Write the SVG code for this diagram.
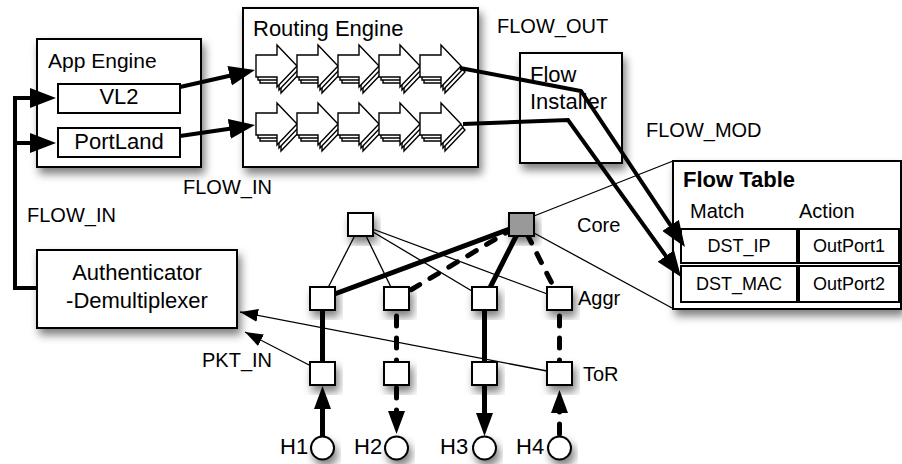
<svg xmlns="http://www.w3.org/2000/svg" xmlns:xlink="http://www.w3.org/1999/xlink" width="902" height="464" viewBox="0 0 902 464">
<style>
text{font-family:"Liberation Sans",Arial,Helvetica,sans-serif;fill:#000}
.box{fill:#fff;stroke:#000;stroke-width:2}
.nd{fill:#fff;stroke:#000;stroke-width:2}
.thin{stroke:#000;stroke-width:1.3;fill:none}
.thick{stroke:#000;stroke-width:5;fill:none}
.dash{stroke-dasharray:10 12;stroke-linecap:round}
.fl{stroke:#000;stroke-width:4;fill:none;stroke-linejoin:miter}
.ic{fill:#fff;stroke:#000;stroke-width:1.4;stroke-linejoin:miter}
.c{text-anchor:middle}
</style>
<defs>
<filter id="sh" x="-30%" y="-30%" width="160%" height="170%">
<feDropShadow dx="3" dy="6" stdDeviation="4" flood-color="#000" flood-opacity="0.5"/>
</filter>
<marker id="big" markerUnits="userSpaceOnUse" markerWidth="26" markerHeight="20" refX="16" refY="10" orient="auto"><path d="M0,0 L26,10 L0,20 Z" fill="#000"/></marker>
<marker id="mid" markerUnits="userSpaceOnUse" markerWidth="23" markerHeight="17" refX="13" refY="8.5" orient="auto"><path d="M0,0 L23,8.5 L0,17 Z" fill="#000"/></marker>
<marker id="sm" markerUnits="userSpaceOnUse" markerWidth="18" markerHeight="13" refX="18" refY="6.5" orient="auto"><path d="M0,0 L18,6.5 L0,13 Z" fill="#000"/></marker>
<g id="icon">
<path class="ic" transform="translate(4,6)" d="M0,-11 H21 V-21 L41,0 L21,21 V11 H0 Z"/>
<path class="ic" transform="translate(2,3)" d="M0,-11 H21 V-21 L41,0 L21,21 V11 H0 Z"/>
<path class="ic" d="M0,-11 H21 V-21 L41,0 L21,21 V11 H0 Z"/>
</g>
</defs>
<rect width="902" height="464" fill="#fff"/>

<g id="app-engine">
<rect class="box" x="37" y="39" width="164" height="128" filter="url(#sh)"/>
<text x="48" y="68" font-size="21">App Engine</text>
<rect class="box" x="58" y="84" width="122" height="29"/>
<text class="c" x="119" y="104" font-size="22">VL2</text>
<rect class="box" x="58" y="128" width="122" height="29"/>
<text class="c" x="119" y="149" font-size="22">PortLand</text>
</g>

<g id="routing-engine">
<rect class="box" x="243" y="8" width="235" height="159" filter="url(#sh)"/>
<text x="253" y="36" font-size="22">Routing Engine</text>
<use xlink:href="#icon" x="256" y="66"/>
<use xlink:href="#icon" x="297" y="66"/>
<use xlink:href="#icon" x="338" y="66"/>
<use xlink:href="#icon" x="379" y="66"/>
<use xlink:href="#icon" x="420" y="66"/>
<use xlink:href="#icon" x="256" y="124"/>
<use xlink:href="#icon" x="297" y="124"/>
<use xlink:href="#icon" x="338" y="124"/>
<use xlink:href="#icon" x="379" y="124"/>
<use xlink:href="#icon" x="420" y="124"/>
</g>

<g id="flow-installer">
<rect class="box" x="520" y="53" width="102" height="110" filter="url(#sh)"/>
<text x="530" y="82" font-size="22">Flow</text>
<text x="530" y="109" font-size="22">Installer</text>
</g>

<g id="authenticator">
<rect class="box" x="37" y="250" width="200" height="78" filter="url(#sh)"/>
<text class="c" x="137" y="280" font-size="22">Authenticator</text>
<text class="c" x="137" y="308" font-size="22">-Demultiplexer</text>
</g>

<g id="zoom-lines">
<line class="thin" x1="534" y1="216" x2="673" y2="161" stroke-width="1"/>
<line class="thin" x1="534" y1="233" x2="672" y2="308" stroke-width="1"/>
</g>

<g id="flow-table">
<rect class="box" x="673" y="161" width="228" height="148" filter="url(#sh)"/>
<text x="683" y="187" font-size="22" font-weight="bold">Flow Table</text>
<text x="690" y="218" font-size="20">Match</text>
<text x="799" y="218" font-size="20">Action</text>
<rect class="box" x="681" y="229" width="116" height="34"/>
<rect class="box" x="799" y="229" width="100" height="34"/>
<rect class="box" x="681" y="266" width="116" height="36"/>
<rect class="box" x="799" y="266" width="100" height="36"/>
<text class="c" x="739" y="252" font-size="18">DST_IP</text>
<text class="c" x="849" y="252" font-size="18">OutPort1</text>
<text class="c" x="739" y="290" font-size="18">DST_MAC</text>
<text class="c" x="849" y="290" font-size="18">OutPort2</text>
</g>

<g id="connectors">
<path class="fl" stroke-width="3" d="M37,288 H15 V98 H46" marker-end="url(#big)"/>
<path class="fl" stroke-width="3" d="M15,143 H46" marker-end="url(#big)"/>
<line class="fl" x1="180" y1="87" x2="245.2" y2="72.2" marker-end="url(#big)"/>
<line class="fl" x1="180" y1="136" x2="245.1" y2="126.5" marker-end="url(#big)"/>
<path class="fl" d="M460,68 L581,91 L679.4,238.7" marker-end="url(#big)"/>
<path class="fl" d="M463,124 L568,120 L675.2,268.9" marker-end="url(#big)"/>
<line class="thin" x1="547" y1="371" x2="240" y2="312" stroke-width="1.2" marker-end="url(#sm)"/>
<line class="thin" x1="311" y1="366" x2="245" y2="332" stroke-width="1.2" marker-end="url(#sm)"/>
<line class="thin" x1="360.5" y1="224.5" x2="322.5" y2="298.5"/>
<line class="thin" x1="360.5" y1="224.5" x2="396.5" y2="298.5"/>
<line class="thin" x1="360.5" y1="224.5" x2="484.5" y2="298.5"/>
<line class="thin" x1="360.5" y1="224.5" x2="559.5" y2="298.5"/>
<line class="thick" x1="522" y1="224.5" x2="322.5" y2="298.5"/>
<line class="thick dash" x1="514" y1="228" x2="396.5" y2="298.5"/>
<line class="thick" x1="522" y1="224.5" x2="484.5" y2="298.5"/>
<line class="thick dash" x1="527" y1="234" x2="559.5" y2="298.5"/>
<line class="thick" x1="322.5" y1="298.5" x2="322.5" y2="373.5"/>
<line class="thick dash" x1="396.5" y1="316" x2="396.5" y2="373.5"/>
<line class="thick" x1="484.5" y1="298.5" x2="484.5" y2="373.5"/>
<line class="thick dash" x1="559.5" y1="316" x2="559.5" y2="373.5"/>
<line class="thick" x1="322.5" y1="436" x2="322.5" y2="396" marker-end="url(#mid)"/>
<line class="thick dash" x1="396.5" y1="388" x2="396.5" y2="424" marker-end="url(#mid)"/>
<line class="thick" x1="484.5" y1="385" x2="484.5" y2="426" marker-end="url(#mid)"/>
<line class="thick dash" x1="559.5" y1="434" x2="559.5" y2="400" marker-end="url(#mid)"/>
</g>

<g id="core-left"><rect class="nd" x="348" y="213" width="25" height="23" filter="url(#sh)"/></g>
<g id="core-right"><rect class="nd" x="509" y="213" width="25" height="23" fill="#999" style="fill:#999" filter="url(#sh)"/></g>
<g id="aggr-1"><rect class="nd" x="310" y="287" width="25" height="23" filter="url(#sh)"/></g>
<g id="aggr-2"><rect class="nd" x="384" y="287" width="25" height="23" filter="url(#sh)"/></g>
<g id="aggr-3"><rect class="nd" x="472" y="287" width="25" height="23" filter="url(#sh)"/></g>
<g id="aggr-4"><rect class="nd" x="547" y="287" width="25" height="23" filter="url(#sh)"/></g>
<g id="tor-1"><rect class="nd" x="310" y="362" width="25" height="23" filter="url(#sh)"/></g>
<g id="tor-2"><rect class="nd" x="384" y="362" width="25" height="23" filter="url(#sh)"/></g>
<g id="tor-3"><rect class="nd" x="472" y="362" width="25" height="23" filter="url(#sh)"/></g>
<g id="tor-4"><rect class="nd" x="547" y="362" width="25" height="23" filter="url(#sh)"/></g>
<g id="h1"><circle class="nd" cx="322.5" cy="448" r="11.5" filter="url(#sh)"/><text x="280" y="454" font-size="22">H1</text></g>
<g id="h2"><circle class="nd" cx="396.5" cy="448" r="11.5" filter="url(#sh)"/><text x="354" y="454" font-size="22">H2</text></g>
<g id="h3"><circle class="nd" cx="484.5" cy="448" r="11.5" filter="url(#sh)"/><text x="440" y="454" font-size="22">H3</text></g>
<g id="h4"><circle class="nd" cx="559.5" cy="448" r="11.5" filter="url(#sh)"/><text x="516" y="454" font-size="22">H4</text></g>

<g id="labels">
<text x="497" y="33" font-size="20">FLOW_OUT</text>
<text x="646" y="137" font-size="20">FLOW_MOD</text>
<text x="183" y="194" font-size="20">FLOW_IN</text>
<text x="27" y="222" font-size="20">FLOW_IN</text>
<text x="202" y="367" font-size="20">PKT_IN</text>
<text x="577" y="232" font-size="20">Core</text>
<text x="578" y="305" font-size="20">Aggr</text>
<text x="583" y="381" font-size="20">ToR</text>
</g>
</svg>
